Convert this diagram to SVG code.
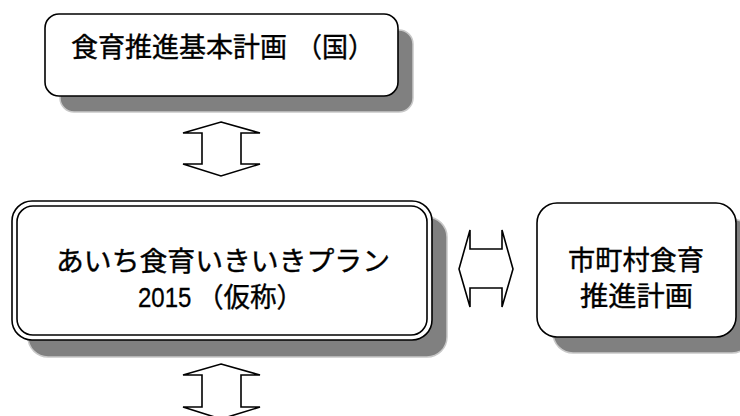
<svg xmlns="http://www.w3.org/2000/svg" width="740" height="416" viewBox="0 0 740 416">
<style>
.shadow{fill:#808080;stroke:#c8c8c8;stroke-width:1.5}
.box{fill:#fff;stroke:#000;stroke-width:1.6}
.arrow{fill:#fff;stroke:#000;stroke-width:1.6;stroke-linejoin:miter}
.t{font-family:"Noto Sans CJK JP","Noto Sans",sans-serif;font-size:27px;fill:#000;stroke:#000;stroke-width:0.4}
.n{font-family:"Liberation Sans",Arial,sans-serif;font-size:27px;fill:#000;stroke:#000;stroke-width:0.3}
</style>
<rect width="740" height="416" fill="#fff"/>
<g id="node-national">
<rect class="shadow" x="60" y="30" width="353" height="82" rx="14"/>
<rect class="box" x="45" y="14" width="353" height="82" rx="14"/>
<text class="t" x="71" y="57"><tspan textLength="216" lengthAdjust="spacingAndGlyphs">食育推進基本計画</tspan><tspan x="296" textLength="78" lengthAdjust="spacingAndGlyphs">（国）</tspan></text>
</g>
<g id="node-aichi">
<rect class="shadow" x="28" y="217" width="419" height="140" rx="20"/>
<rect class="box" x="12" y="201" width="420" height="139" rx="20"/>
<rect class="box" x="17" y="206" width="410" height="129" rx="16"/>
<text class="t" x="56" y="271" textLength="334" lengthAdjust="spacingAndGlyphs">あいち食育いきいきプラン</text>
<text class="n" transform="translate(138,307) scale(0.89,1)">2015</text>
<text class="t" x="197" y="307" textLength="106" lengthAdjust="spacingAndGlyphs">（仮称）</text>
</g>
<g id="node-municipal">
<rect class="shadow" x="553" y="219" width="199" height="134" rx="20"/>
<rect class="box" x="537" y="203" width="199" height="134" rx="20"/>
<text class="t" x="568" y="270" textLength="136" lengthAdjust="spacingAndGlyphs">市町村食育</text>
<text class="t" x="580" y="306" textLength="113" lengthAdjust="spacingAndGlyphs">推進計画</text>
</g>
<g id="connectors">
<path class="arrow" d="M221,122 L260,133 L241,133 L241,164 L260,164 L221,176 L183,164 L202,164 L202,133 L183,133 Z"/>
<path class="arrow" d="M459,269 L470,230 L470,249 L502,249 L502,230 L513,269 L502,307 L502,288 L470,288 L470,307 Z"/>
<path class="arrow" d="M221,364 L260,375 L241,375 L241,407 L260,407 L221,419 L183,407 L202,407 L202,375 L183,375 Z"/>
</g>
</svg>
